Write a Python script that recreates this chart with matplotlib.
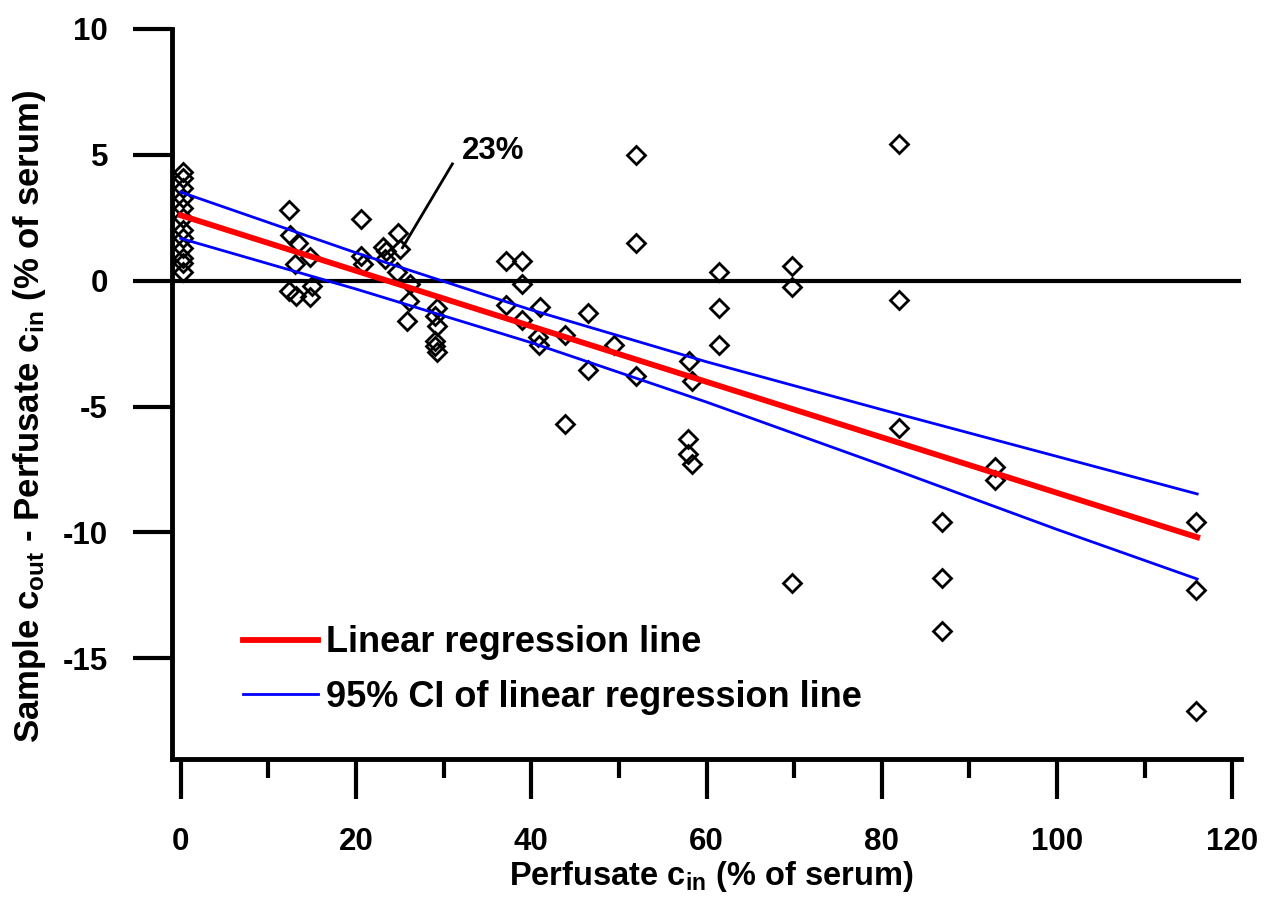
import numpy as np
import matplotlib.pyplot as plt

plt.rcParams['font.family'] = ['Liberation Sans', 'DejaVu Sans']
plt.rcParams['font.weight'] = 'bold'
plt.rcParams['axes.unicode_minus'] = False
plt.rcParams['mathtext.fontset'] = 'custom'
plt.rcParams['mathtext.rm'] = 'Liberation Sans:bold'
plt.rcParams['mathtext.bf'] = 'Liberation Sans:bold'
plt.rcParams['mathtext.it'] = 'Liberation Sans:bold'

# scatter data (perfusate c_in, sample c_out - perfusate c_in), % of serum
cin = [0.2, 0.3, 0.2, 0.3, 0.2, 0.2, 0.3, 0.2, 0.3, 0.2, 0.3, 0.2,
       12.3, 12.5, 13.4, 14.7, 13.0, 12.3, 13.2, 14.7, 15.0,
       20.6, 20.6, 20.8,
       23.1, 23.4, 24.8, 25.0, 23.3, 24.7,
       26.2, 26.1, 25.8,
       29.3, 29.0, 29.3, 29.0, 29.0, 29.3,
       37.1, 38.9, 38.9, 37.1, 38.9,
       41.0, 40.8, 40.9, 43.9, 43.9,
       46.5, 46.5, 49.5,
       52.0, 52.0, 52.0,
       58.0, 58.4, 57.9, 57.9, 58.4,
       61.4, 61.4, 61.4,
       69.8, 69.8, 69.8,
       82.0, 82.0, 82.0,
       86.9, 86.9, 86.9,
       92.9, 92.9,
       115.9, 115.9, 115.9]
diff = [4.3, 4.1, 3.7, 3.3, 2.9, 2.5, 2.0, 1.7, 1.3, 0.9, 0.7, 0.35,
        2.8, 1.8, 1.5, 0.95, 0.65, -0.4, -0.6, -0.65, -0.2,
        2.45, 1.0, 0.65,
        1.35, 1.2, 1.9, 1.25, 0.85, 0.35,
        -0.15, -0.8, -1.6,
        -1.1, -1.4, -1.8, -2.4, -2.6, -2.85,
        0.8, 0.8, -0.15, -0.95, -1.55,
        -1.05, -2.25, -2.55, -2.15, -5.7,
        -1.3, -3.55, -2.55,
        5.0, 1.5, -3.8,
        -3.2, -4.0, -6.3, -6.9, -7.3,
        0.35, -1.1, -2.55,
        0.6, -0.25, -12.0,
        5.45, -0.75, -5.85,
        -9.6, -11.8, -13.9,
        -7.4, -7.9,
        -9.6, -12.3, -17.1]

# regression line and its 95% CI
fit_x = [0, 116]
fit_y = [2.6, -10.19]
ci_x = [0, 20, 40, 60, 80, 100, 116]
ci_upper = [3.52, 1.11, -1.16, -3.22, -5.12, -6.98, -8.47]
ci_lower = [1.68, -0.33, -2.46, -4.82, -7.32, -9.88, -11.85]

fig = plt.figure(figsize=(12.72, 9.01), dpi=100)
ax = fig.add_axes([172 / 1272, 1 - 759 / 901, (1241 - 172) / 1272, (759 - 29) / 901])

ax.axhline(0, color='black', lw=3.0, zorder=1)
ax.plot(cin, diff, linestyle='none', marker='D', ms=9.0, mfc='none',
        mec='black', mew=2.0, zorder=3)
ax.plot(fit_x, fit_y, color='#ff0000', lw=4.2, label='Linear regression line', zorder=4)
ax.plot(ci_x, ci_upper, color='#0000ff', lw=2.0,
        label='95% CI of linear regression line', zorder=4)
ax.plot(ci_x, ci_lower, color='#0000ff', lw=2.0, zorder=4)

ax.plot([31.0, 25.3], [4.64, 1.31], color='black', lw=2.0, zorder=5)
ax.text(32.1, 4.84, '23%', fontsize=22.5, fontweight='bold', va='baseline', ha='left')

ax.set_xlim(-1.0, 121.0)
ax.set_ylim(-19, 10)
ax.set_xticks([0, 20, 40, 60, 80, 100, 120])
ax.set_xticks([10, 30, 50, 70, 90, 110], minor=True)
ax.set_yticks([10, 5, 0, -5, -10, -15])

for s in ['top', 'right']:
    ax.spines[s].set_visible(False)
for s in ['left', 'bottom']:
    ax.spines[s].set_linewidth(3.5)

ax.tick_params(axis='x', which='major', direction='out', length=29, width=3,
               pad=20, labelsize=22.5)
ax.tick_params(axis='x', which='minor', direction='out', length=14, width=3)
ax.tick_params(axis='y', which='major', direction='out', length=28, width=3,
               pad=18, labelsize=22.5)
for lab in ax.get_xticklabels() + ax.get_yticklabels():
    lab.set_fontweight('bold')

ax.set_xlabel(r'Perfusate c$_{\mathrm{in}}$ (% of serum)', fontsize=23.5,
              fontweight='bold')
ax.xaxis.set_label_coords(0.504, -0.137)
ax.set_ylabel(r'Sample c$_{\mathrm{out}}$ - Perfusate c$_{\mathrm{in}}$ (% of serum)',
              fontsize=25, fontweight='bold')
ax.yaxis.set_label_coords(-0.116, 0.47)

leg = ax.legend(loc='upper left', bbox_to_anchor=(0.066, 0.183), frameon=False,
                fontsize=26, handlelength=2.1, handletextpad=0.2,
                labelspacing=0.53, borderpad=0, borderaxespad=0)
for t in leg.get_texts():
    t.set_fontweight('bold')

fig.savefig('out.png', dpi=100)
